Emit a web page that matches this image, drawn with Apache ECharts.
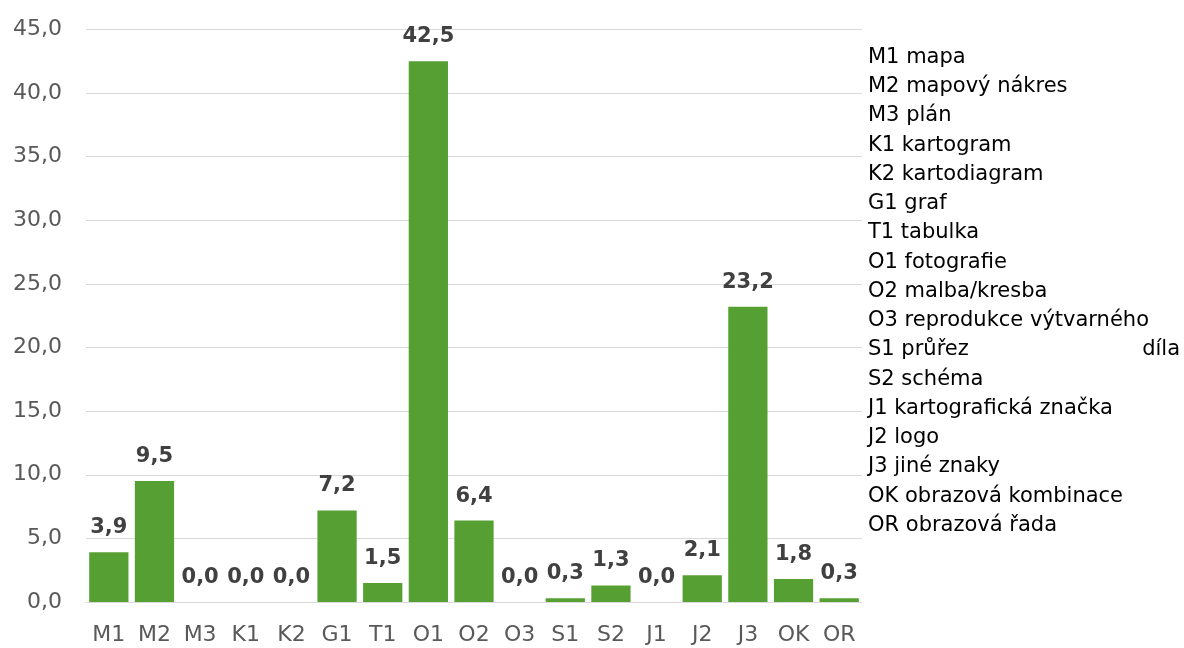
<!DOCTYPE html>
<html>
<head>
<meta charset="utf-8">
<script src="https://cdn.jsdelivr.net/npm/echarts@6/dist/echarts.min.js"></script>
<style>
  html, body { margin: 0; padding: 0; background: #fff; }
  #chart { width: 1184px; height: 648px; }
</style>
</head>
<body>
<div id="chart"></div>
<script>
    // data
    var categories = ['M1', 'M2', 'M3', 'K1', 'K2', 'G1', 'T1', 'O1', 'O2', 'O3', 'S1', 'S2', 'J1', 'J2', 'J3', 'OK', 'OR'];
    var values = [3.9, 9.5, 0.0, 0.0, 0.0, 7.2, 1.5, 42.5, 6.4, 0.0, 0.3, 1.3, 0.0, 2.1, 23.2, 1.8, 0.3];
    var legendLines = [
        'M1 mapa', 'M2 mapový nákres', 'M3 plán', 'K1 kartogram', 'K2 kartodiagram',
        'G1 graf', 'T1 tabulka', 'O1 fotografie', 'O2 malba/kresba', 'O3 reprodukce výtvarného',
        'S1 průřez', 'S2 schéma', 'J1 kartografická značka', 'J2 logo', 'J3 jiné znaky',
        'OK obrazová kombinace', 'OR obrazová řada'
    ];
    var wrappedWord = 'díla'; // overflow of the O3 line, sits at the end of the S1 line

    var font = '"DejaVu Sans", sans-serif';
    var fmt = function (v) { return v.toFixed(1).replace('.', ','); };

    var myChart = echarts.init(document.getElementById('chart'));

    var graphics = legendLines.map(function (t, i) {
        return {
            type: 'text',
            left: 868,
            top: 47 + i * 29.25,
            style: { text: t, fontSize: 21, fontFamily: font, fill: '#000' }
        };
    });
    graphics.push({
        type: 'text',
        right: 4,
        top: 47 + 10 * 29.25,
        style: { text: wrappedWord, fontSize: 21, fontFamily: font, fill: '#000' }
    });

    var option = {
        animation: false,
        backgroundColor: '#fff',
        grid: { left: 86, right: 322, top: 29.4, bottom: 46 },
        xAxis: {
            type: 'category',
            data: categories,
            axisTick: { show: false },
            axisLine: { lineStyle: { color: '#d9d9d9', width: 1 } },
            axisLabel: { color: '#595959', fontSize: 22, fontFamily: font, margin: 22, interval: 0 }
        },
        yAxis: {
            type: 'value',
            min: 0,
            max: 45,
            interval: 5,
            axisLine: { show: false },
            axisTick: { show: false },
            splitLine: { lineStyle: { color: '#d9d9d9', width: 1 } },
            axisLabel: {
                color: '#595959', fontSize: 22, fontFamily: font, margin: 24,
                formatter: fmt
            }
        },
        series: [{
            type: 'bar',
            data: values,
            barCategoryGap: '14%',
            itemStyle: { color: '#56a033' },
            label: {
                show: true,
                position: 'top',
                distance: 14,
                color: '#404040',
                fontSize: 21,
                fontWeight: 'bold',
                fontFamily: font,
                formatter: function (p) { return fmt(p.value); }
            }
        }],
        graphic: graphics
    };

    myChart.setOption(option);
</script>
</body>
</html>
